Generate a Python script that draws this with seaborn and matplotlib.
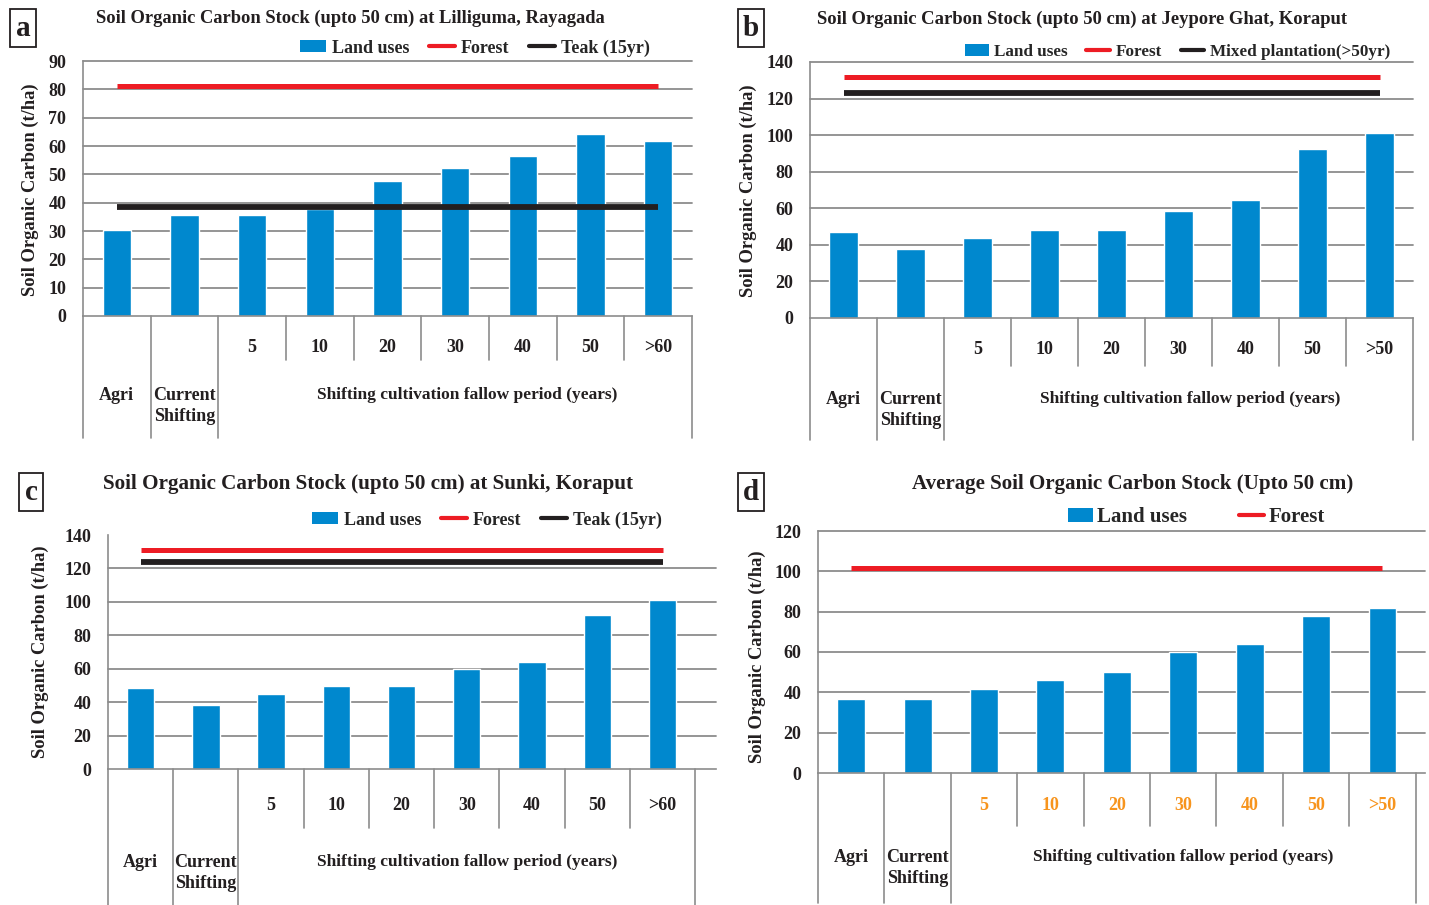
import matplotlib
matplotlib.use("Agg")
import matplotlib.pyplot as plt
import seaborn as sns
import pandas as pd
from matplotlib.patches import Patch
from matplotlib.lines import Line2D
from matplotlib.transforms import blended_transform_factory

sns.set_theme(style="white")
plt.rcParams['font.family'] = ['Liberation Serif', 'DejaVu Serif']
plt.rcParams['font.weight'] = 'bold'

# ---------------- data ----------------
base_categories = ["Agri", "Current\nShifting"]
fallow_a = ["5", "10", "20", "30", "40", "50", ">60"]
fallow_b = ["5", "10", "20", "30", "40", "50", ">50"]
fallow_c = ["5", "10", "20", "30", "40", "50", ">60"]
fallow_d = ["5", "10", "20", "30", "40", "50", ">50"]

soc_a = [30.3, 35.6, 35.6, 37.7, 47.7, 52.2, 56.5, 64.2, 61.7]
soc_b = [47.2, 37.5, 44.0, 48.3, 48.3, 58.7, 64.5, 92.5, 101.3]
soc_c = [48.2, 38.1, 44.6, 49.4, 49.4, 59.9, 64.3, 92.3, 101.2]
soc_d = [36.8, 36.8, 41.7, 46.2, 50.2, 60.0, 64.0, 78.0, 82.0]

forest_a, forest_b, forest_c, forest_d = 81.2, 131.8, 131.3, 101.5
ref_a, ref_b, ref_c = 38.4, 123.0, 123.6

titles = ["Soil Organic Carbon Stock (upto 50 cm) at Lilliguma, Rayagada",
          "Soil Organic Carbon Stock (upto 50 cm) at Jeypore Ghat, Koraput",
          "Soil Organic Carbon Stock (upto 50 cm) at Sunki, Koraput",
          "Average Soil Organic Carbon Stock (Upto 50 cm)"]
ref_labels = ["Teak (15yr)", "Mixed plantation(>50yr)", "Teak (15yr)", None]
panel_letters = ["a", "b", "c", "d"]
ylabel = "Soil Organic Carbon (t/ha)"
group_label = "Shifting cultivation fallow period (years)"

# ---------------- style ----------------
W, H = 1429, 905
BLUE = "#0088CE"
RED = "#ED1C24"
BLACK = "#231F20"
GRID = "#8C8C8C"
ORANGE = "#F7941D"
TXT = "#231F20"

fig = plt.figure(figsize=(W / 100, H / 100), dpi=100)

# layout in pixels (layout only)
layouts = [
    dict(left=83, right=692, y0=316, ytop=61, ymax=90, step=10, xr=8.5, tb=438, sb=360,
         numy=348, caty=395, gx=5.18, tx=350, ty=18, tfs=13.3, lx=300, ly=48, box=(23, 28),
         ylx=30, yly=190, topgrid=True, leg_fs=13, hl=1.45, cs=1.1, htp=0.3),
    dict(left=810, right=1413, y0=318, ytop=62, ymax=140, step=20, xr=8.5, tb=440, sb=366,
         numy=349, caty=399, gx=5.18, tx=1082, ty=19, tfs=13.4, lx=965, ly=52, box=(751, 28),
         ylx=748, yly=191, topgrid=True, leg_fs=12.3, hl=1.4, cs=1.1, htp=0.3),
    dict(left=108, right=716, y0=769, ytop=535, ymax=140, step=20, xr=8.82, tb=905, sb=828,
         numy=805, caty=862, gx=5.0, tx=368, ty=484, tfs=15.2, lx=312, ly=520, box=(31, 492),
         ylx=40, yly=652, topgrid=False, leg_fs=13, hl=1.45, cs=1.1, htp=0.3),
    dict(left=818, right=1425, y0=773, ytop=531, ymax=120, step=20, xr=8.64, tb=903, sb=826,
         numy=805, caty=857, gx=5.0, tx=1133, ty=484, tfs=15.1, lx=1068, ly=517, box=(751, 492),
         ylx=757, yly=657, topgrid=True, leg_fs=15, hl=1.2, cs=2.5, htp=0.2),
]

panels = [
    (fallow_a, soc_a, forest_a, ref_a),
    (fallow_b, soc_b, forest_b, ref_b),
    (fallow_c, soc_c, forest_c, ref_c),
    (fallow_d, soc_d, forest_d, None),
]

for i, ((fallow, soc, forest, ref), L) in enumerate(zip(panels, layouts)):
    cats = base_categories + fallow
    df = pd.DataFrame({"Land use": cats, "SOC": soc})
    ax = fig.add_axes([L["left"] / W, 1 - L["y0"] / H,
                       (L["right"] - L["left"]) / W, (L["y0"] - L["ytop"]) / H])
    sns.barplot(data=df, x="Land use", y="SOC", order=cats, color=BLUE,
                width=0.42, saturation=1, ax=ax)
    for p in ax.patches:
        p.set_zorder(2)
    ax.set_xlim(-0.5, L["xr"])
    ax.set_ylim(0, L["ymax"])
    ticks = list(range(0, L["ymax"] + 1, L["step"]))
    ax.set_yticks(ticks)
    ax.set_yticklabels([str(t) for t in ticks], fontsize=13, fontweight="bold", color=TXT)
    ax.tick_params(axis="y", length=5, width=1, color=GRID, pad=7)
    ax.set_xticks([])
    ax.set_xlabel("")
    ax.set_ylabel("")
    for s in ["top", "right"]:
        ax.spines[s].set_visible(False)
    for s in ["left", "bottom"]:
        ax.spines[s].set_color(GRID)
        ax.spines[s].set_linewidth(1.2)
    gl = ticks[1:] if L["topgrid"] else ticks[1:-1]
    for v in gl:
        ax.axhline(v, color=GRID, lw=1.3, zorder=1, clip_on=False)

    n = len(cats)
    ax.hlines(forest, 0, n - 1, color=RED, lw=3.6, zorder=3)
    if ref is not None:
        ax.hlines(ref, 0, n - 1, color=BLACK, lw=4.2, zorder=3)

    # category table under the axis
    tr = blended_transform_factory(ax.transData, fig.transFigure)
    fy = lambda py: 1 - py / H
    for k in range(n + 1):
        xk = k - 0.5
        bottom = L["tb"] if k in (0, 1, 2, n) else L["sb"]
        ax.plot([xk, xk], [fy(L["y0"]), fy(bottom)], transform=tr, color=GRID,
                lw=1.2, clip_on=False)
    numcol = ORANGE if i == 3 else TXT
    for k, lab in enumerate(fallow):
        ax.text(k + 2, fy(L["numy"]), lab, transform=tr, ha="center", va="center",
                fontsize=13, fontweight="bold", color=numcol)
    ax.text(0, fy(L["caty"]), base_categories[0], transform=tr, ha="center", va="center",
            fontsize=13, fontweight="bold", color=TXT)
    ax.text(1, fy(L["caty"] + 11), base_categories[1], transform=tr, ha="center",
            va="center", fontsize=13, fontweight="bold", color=TXT, linespacing=1.35)
    ax.text(L["gx"], fy(L["caty"]), group_label, transform=tr, ha="center", va="center",
            fontsize=12.5, fontweight="bold", color=TXT)

    # title, ylabel, panel letter
    fig.text(L["tx"] / W, fy(L["ty"]), titles[i], ha="center", va="center",
             fontsize=L["tfs"], fontweight="bold", color=TXT)
    fig.text(L["ylx"] / W, fy(L["yly"]), ylabel, rotation=90,
             ha="center", va="center", fontsize=13.3, fontweight="bold", color=TXT)
    bx, by = L["box"]
    fig.text(bx / W, fy(by), panel_letters[i], ha="center", va="center", fontsize=21,
             fontweight="bold", color=TXT,
             bbox=dict(boxstyle="square,pad=0.18", fc="white", ec=TXT, lw=1.3))

    # legend
    handles = [Patch(facecolor=BLUE, edgecolor="none"),
               Line2D([], [], color=RED, lw=3)]
    labels = ["Land uses", "Forest"]
    if ref is not None:
        handles.append(Line2D([], [], color=BLACK, lw=3))
        labels.append(ref_labels[i])
    fs = L["leg_fs"]
    fig.legend(handles, labels, loc="center left",
               bbox_to_anchor=(L["lx"] / W, fy(L["ly"])), ncol=len(handles),
               frameon=False, handlelength=L["hl"], handleheight=0.65,
               handletextpad=L["htp"], columnspacing=L["cs"],
               borderpad=0, borderaxespad=0, prop=dict(weight="bold", size=fs))

fig.savefig("out.png", dpi=100, facecolor="white")
